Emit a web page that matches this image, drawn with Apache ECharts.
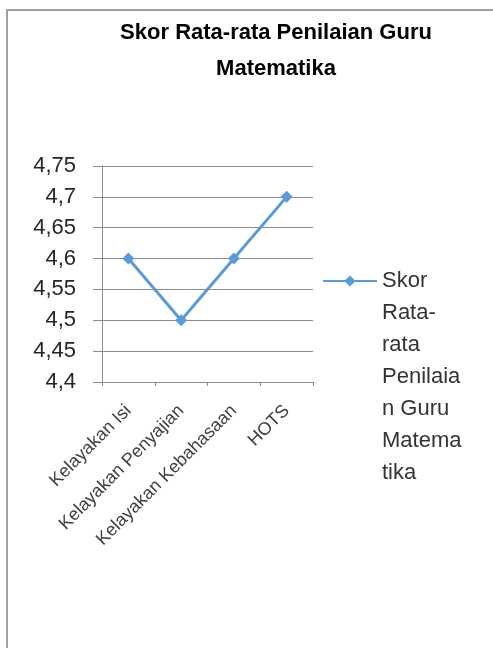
<!DOCTYPE html>
<html>
<head>
<meta charset="utf-8">
<script src="https://cdn.jsdelivr.net/npm/echarts@6/dist/echarts.min.js"></script>
<style>
  html, body { margin: 0; padding: 0; background: #fff; }
  #chart { width: 493px; height: 648px; }
</style>
</head>
<body>
<div id="chart"></div>
<script>
// data
var categories = ['Kelayakan Isi', 'Kelayakan Penyajian', 'Kelayakan Kebahasaan', 'HOTS'];
var scores = [4.6, 4.5, 4.6, 4.7];
var seriesName = 'Skor Rata-rata Penilaian Guru Matematika';
var legendLines = ['Skor', 'Rata-', 'rata', 'Penilaia', 'n Guru', 'Matema', 'tika'];

var font = 'Liberation Sans, Arial, sans-serif';
var gridColor = '#8c8c8c';

var myChart = echarts.init(document.getElementById('chart'));
var option = {
    backgroundColor: '#fff',
    animation: false,
    title: {
        text: 'Skor Rata-rata Penilaian Guru\nMatematika',
        left: 276,
        top: 15,
        padding: 0,
        textAlign: 'center',
        textStyle: {
            fontFamily: font,
            fontSize: 22,
            fontWeight: 'bold',
            color: '#000',
            lineHeight: 36
        }
    },
    graphic: [
        {
            type: 'rect',
            z: -1,
            shape: {x: 7, y: 10, width: 600, height: 800},
            style: {fill: 'none', stroke: '#a0a0a0', lineWidth: 2}
        }
    ],
    legend: {
        orient: 'vertical',
        left: 322,
        top: 73,
        padding: 0,
        itemWidth: 54,
        itemHeight: 14,
        formatter: function () {
            // blank lines in front keep the first word level with the icon
            var pad = [];
            for (var i = 1; i < legendLines.length; i++) pad.push(' ');
            return pad.concat(legendLines).join('\n');
        },
        textStyle: {
            fontFamily: font,
            fontSize: 22,
            color: '#333',
            lineHeight: 32
        },
        data: [seriesName]
    },
    grid: {
        left: 102,
        right: 180,
        top: 166,
        bottom: 266
    },
    xAxis: {
        type: 'category',
        data: categories,
        boundaryGap: true,
        axisLine: {lineStyle: {color: gridColor, width: 1}},
        axisTick: {show: true, length: 4, lineStyle: {color: gridColor}},
        axisLabel: {
            interval: 0,
            rotate: 45,
            margin: 26,
            fontFamily: font,
            fontSize: 18,
            color: '#404040'
        }
    },
    yAxis: {
        type: 'value',
        min: 4.4,
        max: 4.75,
        interval: 0.05,
        axisLine: {show: true, lineStyle: {color: gridColor, width: 1}},
        axisTick: {show: true, length: 9, lineStyle: {color: gridColor}},
        splitLine: {lineStyle: {color: gridColor, width: 1}},
        axisLabel: {
            margin: 26,
            fontFamily: font,
            fontSize: 22,
            color: '#262626',
            formatter: function (v) {
                return parseFloat(v.toFixed(2)).toString().replace('.', ',');
            }
        }
    },
    series: [
        {
            name: seriesName,
            type: 'line',
            data: scores,
            symbol: 'diamond',
            symbolSize: 12,
            itemStyle: {color: '#5b9bd5'},
            lineStyle: {color: '#5b9bd5', width: 3}
        }
    ]
};
myChart.setOption(option);
</script>
</body>
</html>
